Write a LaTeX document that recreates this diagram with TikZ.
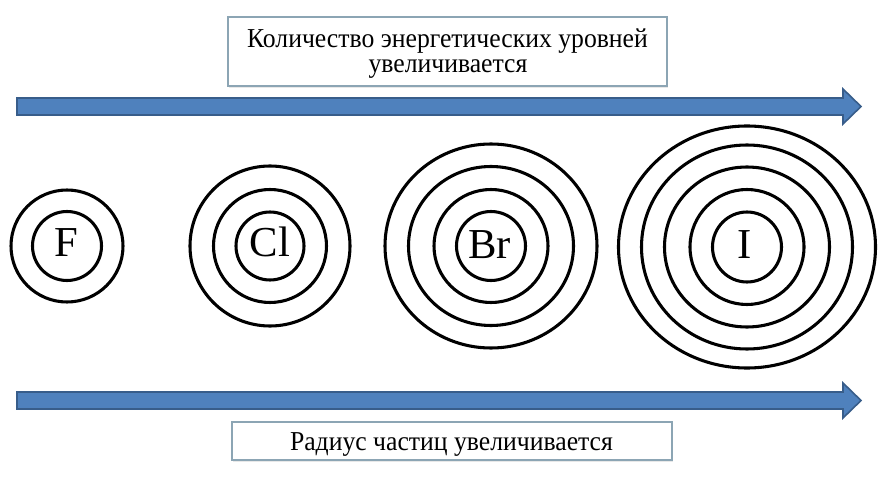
\documentclass[tikz,border=0pt]{standalone}
\usepackage{fontspec}
\setmainfont{Liberation Serif}
\newfontfamily\capfont[FakeStretch=0.94]{Liberation Serif}
\usetikzlibrary{shadows}
\definecolor{arrowfill}{HTML}{4F81BD}
\definecolor{arrowline}{HTML}{385D8A}
\definecolor{boxline}{RGB}{140,165,180}
\begin{document}
\begin{tikzpicture}[x=0.75pt,y=-0.75pt,
  ring/.style={line width=2.3pt, draw=black},
  bigarrow/.style={fill=arrowfill, draw=arrowline, line width=1.2pt, line join=miter},
  textbox/.style={draw=boxline, line width=0.8pt, fill=white, inner sep=0pt,
    drop shadow={opacity=0.18, shadow xshift=1pt, shadow yshift=-1.2pt}},
  caption/.style={font=\capfont\fontsize{20.5}{24}\selectfont, inner sep=0pt, anchor=base},
  elem/.style={font=\fontsize{32}{36}\selectfont, inner sep=0pt, anchor=base}]
\useasboundingbox (0,0) rectangle (883,478);
\fill[white] (0,0) rectangle (883,478);

% top caption box
\node[textbox, minimum width=329.25pt, minimum height=51.75pt] (topbox) at (447.5,51.5) {};
\node[caption] (toptext1) at (447.5,48) {Количество энергетических уровней};
\node[caption] (toptext2) at (448,73) {увеличивается};

% top arrow
\draw[bigarrow] (17,98) -- (843,98) -- (843,89) -- (861,106.5) -- (843,124) -- (843,115) -- (17,115) -- cycle;

% bottom arrow
\draw[bigarrow] (17,392) -- (843,392) -- (843,383) -- (861,400.5) -- (843,418) -- (843,409) -- (17,409) -- cycle;

% bottom caption box
\node[textbox, minimum width=330pt, minimum height=28.5pt] (botbox) at (452,441) {};
\node[caption] (bottext) at (451.5,450) {Радиус частиц увеличивается};

% F
\coordinate (cF) at (67,246);
\draw[ring] (cF) circle[radius=34.5];
\draw[ring] (cF) circle[radius=56];
\node[elem] (lF) at (66,257) {F};

% Cl
\coordinate (cCl) at (270,246);
\draw[ring] (cCl) circle[radius=34];
\draw[ring] (cCl) circle[radius=56.5];
\draw[ring] (cCl) circle[radius=80];
\node[elem] (lCl) at (270,257) {Cl};

% Br
\coordinate (cBr) at (491,246);
\draw[ring] (cBr) ellipse[x radius=34.5, y radius=34.5];
\draw[ring] (cBr) ellipse[x radius=57, y radius=56.5];
\draw[ring] (cBr) ellipse[x radius=82.5, y radius=79.5];
\draw[ring] (cBr) ellipse[x radius=106, y radius=102];
\node[elem] (lBr) at (489.5,258) {Br};

% I
\coordinate (cI) at (747,247);
\draw[ring] (cI) ellipse[x radius=34.5, y radius=35];
\draw[ring] (cI) ellipse[x radius=57, y radius=57.5];
\draw[ring] (cI) ellipse[x radius=82.5, y radius=80];
\draw[ring] (cI) ellipse[x radius=105.5, y radius=102];
\draw[ring] (cI) ellipse[x radius=128.5, y radius=121];
\node[elem] (lI) at (745,258) {I};
\end{tikzpicture}
\end{document}
